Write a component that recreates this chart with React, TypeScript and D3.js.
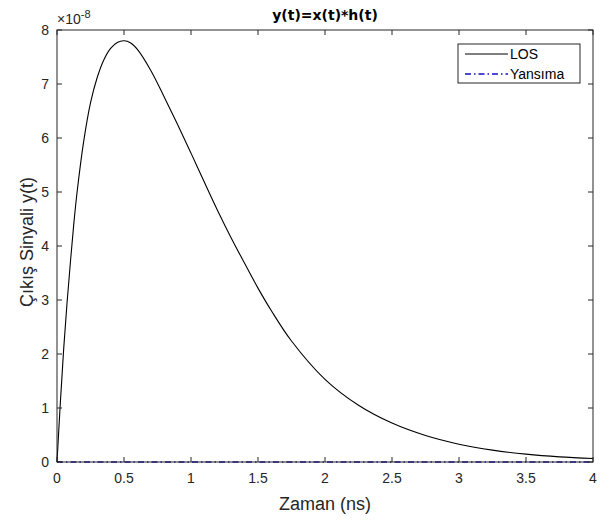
import React from 'react';
import * as d3 from 'd3';

// zaman ekseni (ns) ve LOS çıkış sinyali (x 1e-8)
const timeNs = [0, 0.025, 0.05, 0.075, 0.1, 0.125, 0.15, 0.2, 0.25, 0.3, 0.35, 0.4, 0.45, 0.5, 0.55, 0.6, 0.7, 0.8, 0.9, 1.0, 1.1, 1.2, 1.3, 1.4, 1.5, 1.6, 1.75, 2.0, 2.25, 2.5, 2.75, 3.0, 3.25, 3.5, 3.75, 4.0];
const losValues = [0, 1.1, 2.1, 2.95, 3.7, 4.4, 5.0, 5.95, 6.65, 7.12, 7.45, 7.66, 7.77, 7.8, 7.76, 7.64, 7.25, 6.76, 6.25, 5.72, 5.18, 4.65, 4.15, 3.68, 3.22, 2.8, 2.24, 1.53, 1.05, 0.72, 0.49, 0.33, 0.22, 0.145, 0.095, 0.065].map(v => v * 1e-8);
const yansimaValues = timeNs.map(() => 0);

const xTicks = [0, 0.5, 1, 1.5, 2, 2.5, 3, 3.5, 4];
const yTicks = [0, 1, 2, 3, 4, 5, 6, 7, 8];
const seriesNames = ['LOS', 'Yansıma'];

const W = 616;
const H = 522;
const margin = { left: 57, right: 23, top: 30, bottom: 60 };
const axisColor = '#262626';
const blue = '#1010c0';
const font = '"Liberation Sans", Arial, Helvetica, sans-serif';

export default function App() {
  const x = d3.scaleLinear().domain([0, 4]).range([margin.left, W - margin.right]);
  const y = d3.scaleLinear().domain([0, 8e-8]).range([H - margin.bottom, margin.top]);

  const line = d3
    .line<number>()
    .x((_, i) => x(timeNs[i]))
    .y(d => y(d))
    .curve(d3.curveCatmullRom.alpha(0.5));

  const [x0, x1] = x.range();
  const [y0, y1] = y.range();
  const tickLen = 5;

  return (
    <svg width={W} height={H} style={{ position: 'absolute', left: 0, top: 0, background: '#fff' }} fontFamily={font}>
      <rect x={0} y={0} width={W} height={H} fill="#fff" />
      <rect x={x0} y={y1} width={x1 - x0} height={y0 - y1} fill="#fff" />

      {/* veriler */}
      <path d={line(losValues) || ''} fill="none" stroke="#000" strokeWidth={1.1} />
      <path d={line(yansimaValues) || ''} fill="none" stroke={blue} strokeWidth={1.3} strokeDasharray="6,3,1.5,3" />

      {/* çerçeve ve tikler */}
      <rect x={x0} y={y1} width={x1 - x0} height={y0 - y1} fill="none" stroke={axisColor} strokeWidth={1} />
      {xTicks.map(t => (
        <g key={'xt' + t}>
          <line x1={x(t)} x2={x(t)} y1={y0} y2={y0 - tickLen} stroke={axisColor} />
          <line x1={x(t)} x2={x(t)} y1={y1} y2={y1 + tickLen} stroke={axisColor} />
          <text x={x(t)} y={y0 + 21} textAnchor="middle" fontSize={14} fill={axisColor}>{t}</text>
        </g>
      ))}
      {yTicks.map(t => (
        <g key={'yt' + t}>
          <line x1={x0} x2={x0 + tickLen} y1={y(t * 1e-8)} y2={y(t * 1e-8)} stroke={axisColor} />
          <line x1={x1} x2={x1 - tickLen} y1={y(t * 1e-8)} y2={y(t * 1e-8)} stroke={axisColor} />
          <text x={x0 - 8} y={y(t * 1e-8)} dy="0.35em" textAnchor="end" fontSize={14} fill={axisColor}>{t}</text>
        </g>
      ))}

      {/* üs */}
      <text x={x0} y={y1 - 6} fontSize={14} fill={axisColor}>
        ×10<tspan dy={-6} fontSize={11}>-8</tspan>
      </text>

      {/* başlık ve eksen etiketleri */}
      <text x={(x0 + x1) / 2} y={y1 - 10} textAnchor="middle" fontSize={14} fontWeight="bold" fontFamily='"DejaVu Sans", sans-serif' fill="#000">
        y(t)=x(t)*h(t)
      </text>
      <text x={(x0 + x1) / 2} y={y0 + 48} textAnchor="middle" fontSize={18} fill={axisColor}>Zaman (ns)</text>
      <text transform={`translate(33,${(y0 + y1) / 2 - 4}) rotate(-90)`} textAnchor="middle" fontSize={18} fill={axisColor}>
        Çıkış Sinyali y(t)
      </text>

      {/* lejant */}
      <g>
        <rect x={458} y={44} width={122} height={39} fill="#fff" stroke={axisColor} />
        {seriesNames.map((name, i) => (
          <g key={name}>
            <line x1={465} x2={508} y1={54 + i * 20} y2={54 + i * 20}
              stroke={i === 0 ? '#000' : blue} strokeWidth={i === 0 ? 1.1 : 1.3}
              strokeDasharray={i === 0 ? undefined : '6,3,1.5,3'} />
            <text x={510} y={54 + i * 20} dy="0.35em" fontSize={14} fill="#000">{name}</text>
          </g>
        ))}
      </g>
    </svg>
  );
}
